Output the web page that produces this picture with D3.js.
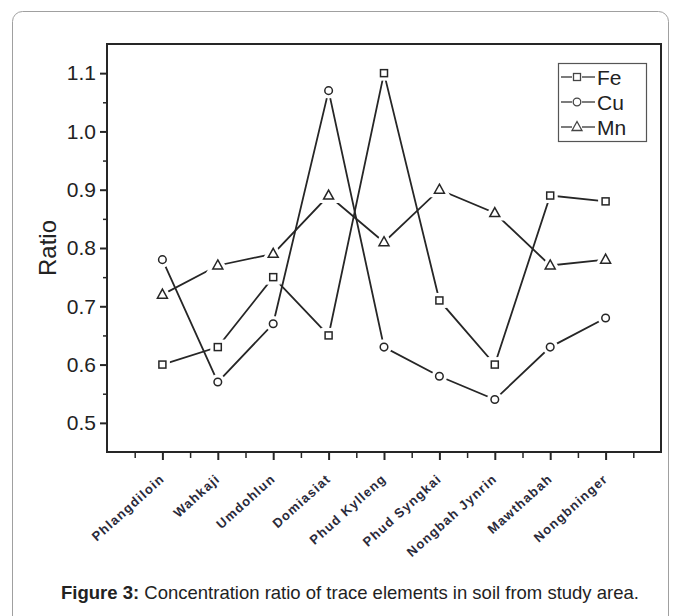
<!DOCTYPE html>
<html><head><meta charset="utf-8">
<script src="https://cdn.jsdelivr.net/npm/d3@7"></script>
<style>
body{margin:0;background:#fff;}
svg{display:block;font-family:"Liberation Sans",Arial,sans-serif;}
</style></head>
<body><svg id="c" width="680" height="616"></svg>
<script>
const categories = ["Phlangdiloin","Wahkaji","Umdohlun","Domiasiat","Phud Kylleng","Phud Syngkai","Nongbah Jynrin","Mawthabah","Nongbninger"];
const fe = [0.60,0.63,0.75,0.65,1.10,0.71,0.60,0.89,0.88];
const cu = [0.78,0.57,0.67,1.07,0.63,0.58,0.54,0.63,0.68];
const mn = [0.72,0.77,0.79,0.89,0.81,0.90,0.86,0.77,0.78];
const yTicks = [0.5,0.6,0.7,0.8,0.9,1.0,1.1];
const yMinor = [0.55,0.65,0.75,0.85,0.95,1.05];
const seriesNames = ["Fe","Cu","Mn"];

const svg = d3.select("#c");
// outer frame
svg.append("rect").attr("x",12.5).attr("y",11.5).attr("width",656).attr("height",640)
  .attr("rx",10).attr("fill","none").attr("stroke","#a0a0a0").attr("stroke-width",1);

const L=107,R=661,T=44,B=452;
const x = d3.scaleLinear().domain([-1,9]).range([L,R]);
const y = d3.scaleLinear().domain([0.45,1.15]).range([B,T]);

const ink="#262626";
// frame
svg.append("rect").attr("x",L).attr("y",T).attr("width",R-L).attr("height",B-T)
  .attr("fill","none").attr("stroke",ink).attr("stroke-width",2);

// y axis
const ya = svg.append("g").attr("transform",`translate(${L},0)`)
  .call(d3.axisLeft(y).tickValues(yTicks).tickSize(7).tickPadding(4).tickFormat(d3.format(".1f")));
ya.select(".domain").remove();
ya.selectAll("line").attr("stroke",ink).attr("stroke-width",2);
ya.selectAll("text").attr("font-size",21).attr("fill","#222").attr("font-family","Liberation Sans, Arial, sans-serif");
const ym = svg.append("g").attr("transform",`translate(${L},0)`)
  .call(d3.axisLeft(y).tickValues(yMinor).tickSize(4).tickFormat(""));
ym.select(".domain").remove();
ym.selectAll("line").attr("stroke",ink).attr("stroke-width",1.5);

// x axis
const idx = d3.range(categories.length);
const xa = svg.append("g").attr("transform",`translate(0,${B})`)
  .call(d3.axisBottom(x).tickValues(idx).tickSize(8).tickFormat(""));
xa.select(".domain").remove();
xa.selectAll("line").attr("stroke",ink).attr("stroke-width",2);
const xm = svg.append("g").attr("transform",`translate(0,${B})`)
  .call(d3.axisBottom(x).tickValues(idx.map(i=>i-0.5).concat([categories.length-0.5])).tickSize(6).tickFormat(""));
xm.select(".domain").remove();
xm.selectAll("line").attr("stroke",ink).attr("stroke-width",1.5);

// x labels
svg.append("g").selectAll("text").data(categories).join("text")
  .attr("transform",(d,i)=>`translate(${x(i)+3},${B+28}) rotate(-42)`)
  .attr("text-anchor","end").attr("font-size",13).attr("font-weight","bold")
  .attr("letter-spacing",1.2).attr("fill","#2a2a3a").text(d=>d);

// y title
svg.append("text").attr("transform",`translate(56,${y(0.8)}) rotate(-90)`)
  .attr("text-anchor","middle").attr("font-size",24).attr("fill","#222").text("Ratio");

// series
const series = [
  {name:"Fe", vals:fe, shape:"square"},
  {name:"Cu", vals:cu, shape:"circle"},
  {name:"Mn", vals:mn, shape:"triangle"}
];
const line = d3.line().x((d,i)=>x(i)).y(d=>y(d));
function marker(g, shape, cx, cy){
  let sel;
  if(shape==="square") sel = g.append("rect").attr("x",cx-3.5).attr("y",cy-3.5).attr("width",7).attr("height",7);
  else if(shape==="circle") sel = g.append("circle").attr("cx",cx).attr("cy",cy).attr("r",3.8);
  else sel = g.append("path").attr("d",`M${cx},${cy-5.5}L${cx+5},${cy+3.5}L${cx-5},${cy+3.5}Z`);
  return sel;
}
series.forEach(s=>{
  svg.append("path").datum(s.vals).attr("d",line).attr("fill","none")
    .attr("stroke",ink).attr("stroke-width",1.8);
});
// halos then markers
series.forEach(s=>{
  const g = svg.append("g");
  s.vals.forEach((v,i)=>{ marker(g,s.shape,x(i),y(v)).attr("fill","#fff").attr("stroke","#fff").attr("stroke-width",8); });
});
series.forEach(s=>{
  const g = svg.append("g");
  s.vals.forEach((v,i)=>{ marker(g,s.shape,x(i),y(v)).attr("fill","#fff").attr("stroke",ink).attr("stroke-width",1.5); });
});

// legend
const lg = svg.append("g");
lg.append("rect").attr("x",558.5).attr("y",63.5).attr("width",88).attr("height",78)
  .attr("fill","#fff").attr("stroke","#555").attr("stroke-width",1.2);
series.forEach((s,k)=>{
  const cy = 77 + k*25;
  lg.append("line").attr("x1",561).attr("x2",572).attr("y1",cy).attr("y2",cy).attr("stroke","#444").attr("stroke-width",1.4);
  lg.append("line").attr("x1",582).attr("x2",595).attr("y1",cy).attr("y2",cy).attr("stroke","#444").attr("stroke-width",1.4);
  marker(lg,s.shape,577,cy).attr("fill","#fff").attr("stroke","#444").attr("stroke-width",1.3);
  lg.append("text").attr("x",597).attr("y",cy+7.5).attr("font-size",21).attr("fill","#222").text(s.name);
});

// caption
const cap = svg.append("text").attr("x",350).attr("y",599).attr("text-anchor","middle")
  .attr("font-size",18.5).attr("fill","#222");
cap.append("tspan").attr("font-weight","bold").text("Figure 3:");
cap.append("tspan").text(" Concentration ratio of trace elements in soil from study area.");
</script></body></html>
